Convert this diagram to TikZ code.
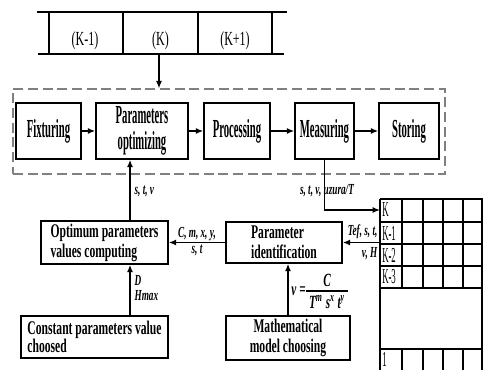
\documentclass[tikz,border=0pt]{standalone}
\usepackage{fontspec}
\setmainfont{Liberation Serif}[FakeStretch=0.6]
\newfontfamily\tallfont{Liberation Serif}[FakeStretch=0.41]
\usetikzlibrary{arrows.meta}

\tikzset{
  blk/.style={draw,line width=1.2pt,inner sep=2pt},
  stepbox/.style={blk,font=\tallfont\fontsize{19.5}{19.5}\selectfont\bfseries,align=center,minimum height=42pt},
  calcbox/.style={blk,font=\fontsize{14.5}{15}\selectfont\bfseries},
  lab/.style={font=\fontsize{11.5}{12}\selectfont\bfseries\itshape,inner sep=1pt},
  arr/.style={line width=1pt,-{Latex[length=5.5pt,width=4.5pt]}},
  cell/.style={font=\tallfont\fontsize{16}{16}\selectfont,inner sep=0pt,anchor=west},
  part/.style={font=\fontsize{15}{15}\selectfont,inner sep=0pt},
  frml/.style={inner sep=0pt,font=\fontsize{14}{14}\selectfont\bfseries\itshape},
}

\begin{document}
\begin{tikzpicture}[x=0.75pt,y=-0.75pt]
  \useasboundingbox (0,0) rectangle (483,370);
  % strip of parts
  \begin{scope}
  \draw[line width=1.6pt] (37,12) -- (287,12) (38,54) -- (284,54);
  \foreach \x in {49,123,198,272}
           {\draw [line width=.8pt] (\x,12) -- (\x,54);}
  \node[part] (km) at (85,41) {(K-1)};
  \node[part] (kc) at (160.5,41) {(K)};
  \node[part] (kp) at (235,41) {(K+1)};
  \coordinate (sb) at (159,54);
  \end{scope}
  %
  \node[draw=gray,line width=1pt,dash pattern=on 7.5pt off 3.5pt,
        minimum width=324pt,minimum height=63.75pt] (stage) at (229,131.5) {};
  \draw[arr] (sb) -- (sb |- stage.north);
  %
  \node[stepbox,minimum width=48.75pt] (fix) at (48.5,131) {Fixturing};
  \node[stepbox,minimum width=69pt] (popt) at (142,131) {Parameters\\optimizing};
  \node[stepbox,minimum width=49.5pt] (proc) at (237,131) {Processing};
  \node[stepbox,minimum width=44.25pt] (meas) at (324.5,131) {Measuring};
  \node[stepbox,minimum width=45pt] (stor) at (409,131) {Storing};
  \draw[arr] (fix) -- (popt);
  \draw[arr] (popt) -- (proc);
  \draw[arr] (proc) -- (meas);
  \draw[arr] (meas) -- (stor);
  %
  \node[calcbox,align=left,minimum width=95.25pt,minimum height=30.75pt] (opt)
       at (104.5,242.5) {Optimum parameters\\values computing};
  \node[calcbox,align=left,minimum width=87pt,minimum height=30.75pt] (pid)
       at (284,242.5) {Parameter\\identification};
  \node[calcbox,align=left,minimum width=110.25pt,minimum height=31.5pt,
        font=\fontsize{14.5}{13.5}\selectfont\bfseries] (cons)
       at (94.5,337) {Constant parameters value\\choosed};
  \node[calcbox,align=center,minimum width=93pt,minimum height=33pt] (mdl)
       at (288,338) {Mathematical\\model choosing};
  %
  \coordinate (colA) at (130,0);
  \coordinate (tabK) at (380,210);
  \coordinate (tabL) at (380,243);
  \draw[arr] (opt.north -| colA) -- (popt.south -| colA);
  \node[lab,anchor=west] (lstv) at (133,191) {s, t, v};
  \draw[arr] (meas.south) |- (tabK);
  \node[lab] (lmeas) at (327,191) {s, t, v, uzura/T};
  \draw[arr] (tabL |- pid.east) -- (pid.east);
  \node[lab,anchor=south east] (ltef) at (379,240) {Tef, s, t,};
  \node[lab,anchor=north east] (lvh) at (379,246) {v, H};
  \draw[arr] (pid) -- (opt)
        node[midway,above,lab] (lcm) {C, m, x, y,}
        node[midway,below,lab] (lst) {s, t};
  \draw[arr] (cons.north -| colA) -- (opt.south -| colA);
  \node[lab,anchor=west] (ld) at (133,280) {D};
  \node[lab,anchor=west] (lh) at (133,296) {Hmax};
  \draw[arr] (mdl.north) -- (mdl.north |- pid.south);
  % v = C / (T^m s^x t^y)
  \node[frml,anchor=west] (fv) at (291,291) {v\,=};
  \node[frml,anchor=south] (fnum) at (327,287) {C};
  \node[frml,anchor=north] (fden) at (327,295)
       {T\textsuperscript{m}\,s\textsuperscript{x}\ t\textsuperscript{y}};
  \draw[line width=.8pt] ([xshift=-2pt]fden.west |- fv.east) -- ([xshift=2pt]fden.east |- fv.east);
  %
  % storage table
  \begin{scope}
  \foreach \y in {199,222,244,266,288,349}
           {\draw [line width=1.2pt] (380,\y) -- (483,\y);}
  \draw[line width=1.2pt] (380,199) -- (380,370) (482,199) -- (482,370);
  \foreach \x in {402,423,443,463}
           {\draw [line width=1pt] (\x,199) -- (\x,288) (\x,349) -- (\x,370);}
  \node[cell] (rk) at (382,210) {K};
  \node[cell] (rk1) at (382,233) {K-1};
  \node[cell] (rk2) at (382,255) {K-2};
  \node[cell] (rk3) at (382,277) {K-3};
  \node[cell] (r1) at (382,359) {1};
  \end{scope}
\end{tikzpicture}
\end{document}
